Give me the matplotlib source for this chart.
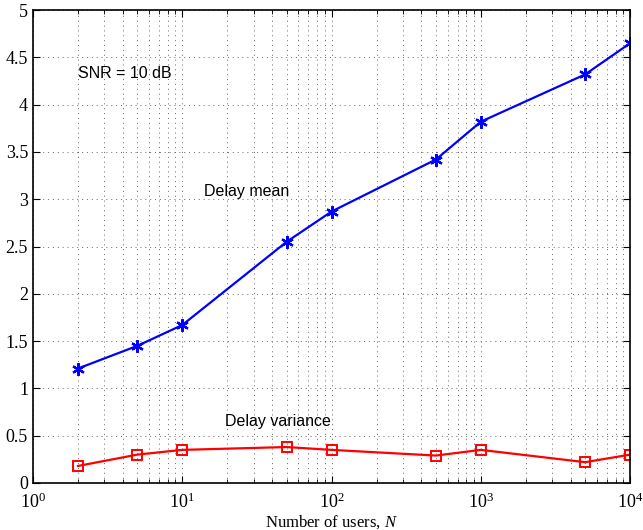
import matplotlib
matplotlib.use("Agg")
import matplotlib.pyplot as plt
from matplotlib.ticker import LogLocator, NullFormatter

plt.rcParams["mathtext.fontset"] = "custom"
plt.rcParams["mathtext.rm"] = "Liberation Serif"
plt.rcParams["mathtext.it"] = "Liberation Serif:italic"

users = [2, 5, 10, 50, 100, 500, 1000, 5000, 10000]
delay_mean = [1.21, 1.45, 1.67, 2.55, 2.87, 3.42, 3.82, 4.32, 4.65]
delay_var = [0.18, 0.30, 0.35, 0.38, 0.35, 0.29, 0.35, 0.22, 0.30]
yticks = [0, 0.5, 1, 1.5, 2, 2.5, 3, 3.5, 4, 4.5, 5]
ytick_labels = ["0", "0.5", "1", "1.5", "2", "2.5", "3", "3.5", "4", "4.5", "5"]

fig = plt.figure(figsize=(6.43, 5.30), dpi=100)
ax = fig.add_axes([0.0513, 0.0887, 0.9287, 0.8923])

ax.plot(users, delay_mean, color="#0000ff", lw=1.6, marker=(6, 2, 0), ms=9, mew=1.6)
ax.plot(users, delay_var, color="#ff0000", lw=1.6, marker="s", ms=7, mfc="none", mew=1.4)

ax.set_xscale("log")
ax.set_xlim(1, 1e4)
ax.set_ylim(0, 5)
ax.set_yticks(yticks)
ax.set_yticklabels(ytick_labels)
ax.xaxis.set_major_locator(LogLocator(base=10, numticks=10))
ax.xaxis.set_minor_locator(LogLocator(base=10, subs=range(2, 10), numticks=10))
ax.xaxis.set_minor_formatter(NullFormatter())

ax.grid(True, which="major", ls=(0, (1, 4)), color="#666666", lw=0.7)
ax.grid(True, which="minor", axis="x", ls=(0, (1, 4)), color="#666666", lw=0.7)
ax.tick_params(direction="in", which="both", top=True, right=True)
ax.tick_params(which="major", length=5, labelsize=13)
ax.tick_params(axis="x", which="major", pad=7)
ax.tick_params(which="minor", length=3)
for lab in ax.get_xticklabels() + ax.get_yticklabels():
    lab.set_family("Liberation Serif")
for s in ax.spines.values():
    s.set_linewidth(1.2)

ax.set_xlabel("Number of users, $\\mathit{N}$", family="Liberation Serif", fontsize=12, labelpad=1)

ax.text(2.0, 4.33, "SNR = 10 dB", family="Liberation Sans", fontsize=11.5, va="center")
ax.text(14, 3.08, "Delay mean", family="Liberation Sans", fontsize=11.5, va="center")
ax.text(19.3, 0.645, "Delay variance", family="Liberation Sans", fontsize=11.5, va="center")

fig.savefig("out.png", dpi=100)
